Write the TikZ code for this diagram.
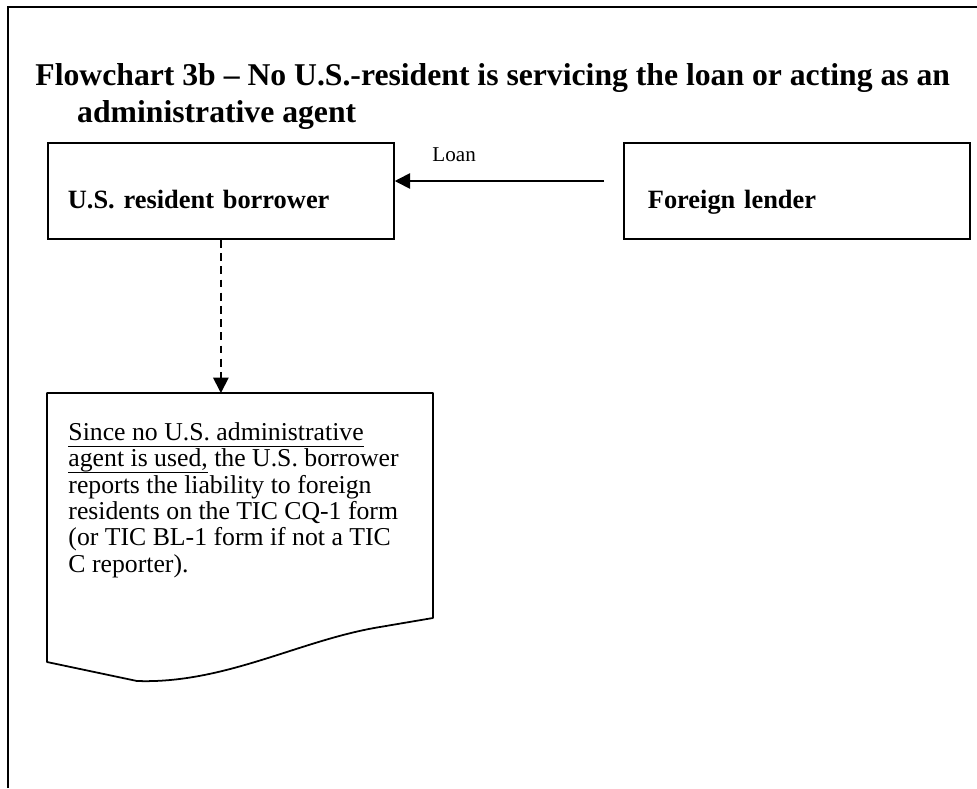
\documentclass[tikz,border=0pt]{standalone}
\usepackage{fontspec}
\setmainfont{Liberation Serif}
\usetikzlibrary{calc,arrows.meta}

% underline that sits at a fixed depth (ignores descenders)
\newcommand{\ulword}[1]{\setbox0\hbox{#1}\rlap{\rule[-2.9pt]{\wd0}{0.55pt}}\box0\relax}

\begin{document}
\begin{tikzpicture}[x=0.4545pt, y=-0.4545pt, every node/.style={inner sep=0pt}]
  % -----------------------------
  % SETTINGS (page units = px)
  % -----------------------------
  \def\px{0.4545pt}
  \def\W{977}   % page width
  \def\H{788}   % page height

  % -----------------------------
  % STYLES
  % -----------------------------
  \tikzset{
    frameline/.style={line width=0.9pt},
    partybox/.style={draw, line width=0.8pt, anchor=north west, align=left,
      text height=29.9pt, text depth=13.8pt, inner ysep=0pt,
      font=\bfseries\fontsize{12}{14}\selectfont},
    flowarrow/.style={line width=0.8pt, -{Triangle[length=7pt, width=7pt]}},
    dashline/.style={dash pattern=on 3.6pt off 2.4pt},
    docline/.style={line width=0.8pt, line join=round},
    titletxt/.style={align=left, font=\bfseries\fontsize{14.4}{16.7}\selectfont},
    doctxt/.style={align=left, font=\fontsize{11.7}{11.95}\selectfont},
    loanlbl/.style={font=\fontsize{9.6}{11}\selectfont},
  }

  \useasboundingbox (0,0) rectangle (\W,\H);

  % -----------------------------
  % PAGE FRAME (top and left only)
  % -----------------------------
  \draw[frameline] (8,\H) -- (8,7) -- (\W,7);

  % -----------------------------
  % TITLE (anchored on its last baseline)
  % -----------------------------
  \node[titletxt, anchor=base west] (title) at (35,122)
  {Flowchart 3b \textendash{} No U.S.-resident is servicing the loan or acting as an\\
   \hspace*{19pt}administrative agent};

  % -----------------------------
  % PARTIES
  % -----------------------------
  \node[partybox, inner xsep={20*\px}, text width={306*\px}] (borrower) at (47,142)
  {U.S. resident borrower};
  \node[partybox, inner xsep={24*\px}, text width={298*\px}] (lender) at (623,142)
  {Foreign lender};

  % loan flow
  \coordinate (loanfrom) at (604,181);
  \draw[flowarrow] (loanfrom) -- (loanfrom -| borrower.east);
  \node[loanlbl, anchor=base west] (loan) at (432,161) {Loan};

  % -----------------------------
  % REPORTING NOTE (document shape)
  % -----------------------------
  \node[anchor=north west, minimum width={385*\px}, minimum height={288*\px}] (doc) at (47,393) {};
  \draw[docline] (doc.north west) -- (doc.north east) -- ($(doc.north east)+(0,225)$)
    -- (380,627) .. controls (300,640) and (225,684) .. (137,681)
    -- ($(doc.north west)+(0,269)$) -- cycle;

  % anchored on the last baseline
  \node[doctxt, anchor=base west] (note) at (68,572)
  {\ulword{Since no U.S. administrative}\\
   \ulword{agent is used,} the U.S. borrower\\
   reports the liability to foreign\\
   residents on the TIC CQ-1 form\\
   (or TIC BL-1 form if not a TIC\\
   C reporter).};

  \draw[flowarrow, dashline] (borrower.south) -- (borrower.south |- doc.north);
\end{tikzpicture}
\end{document}
